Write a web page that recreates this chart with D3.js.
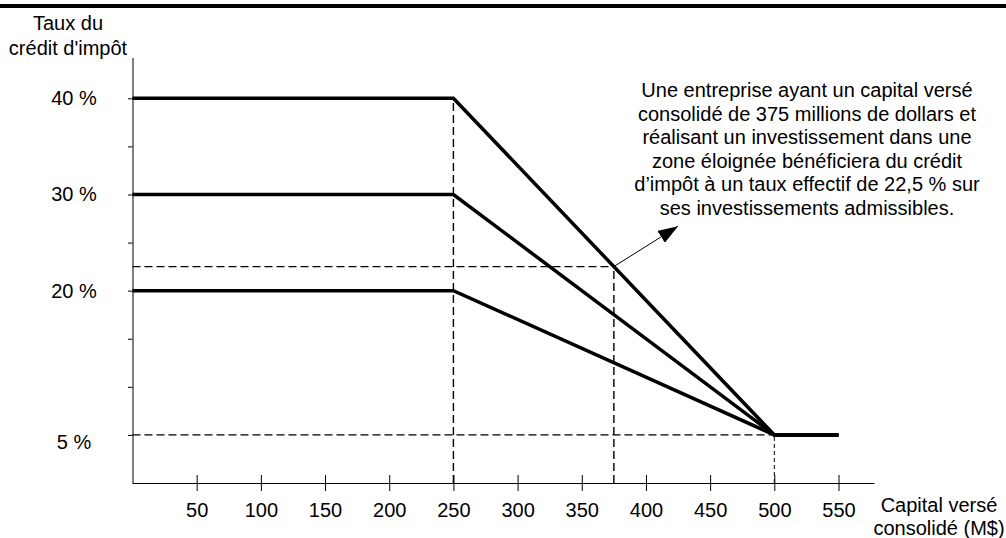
<!DOCTYPE html>
<html><head><meta charset="utf-8">
<script src="https://cdn.jsdelivr.net/npm/d3@7"></script>
<style>
html,body{margin:0;padding:0;background:#fff;}
svg{display:block;font-family:"Liberation Sans",Arial,sans-serif;}
</style></head>
<body><svg id="c" width="1006" height="538"></svg>
<script>
// ---- data ----
const capital = [0, 250, 500, 550];              // M$
const rate40 = [40, 40, 5, 5];                    // %
const rate30 = [30, 30, 5, 5];
const rate20 = [20, 20, 5, 5];
const xTicks = [50, 100, 150, 200, 250, 300, 350, 400, 450, 500, 550];
const yTicks = [5, 10, 15, 20, 25, 30, 35, 40];
const yLabelValues = [40, 30, 20, 5];
const yLabelTexts = ["40 %", "30 %", "20 %", "5 %"];
const example = {capital: 375, rate: 22.5};
const arrowTip = {capital: 425, rate: 26.7};
const noteLines = [
  "Une entreprise ayant un capital versé",
  "consolidé de 375 millions de dollars et",
  "réalisant un investissement dans une",
  "zone éloignée bénéficiera du crédit",
  "d’impôt à un taux effectif de 22,5 % sur",
  "ses investissements admissibles."
];
const yTitle = ["Taux du", "crédit d'impôt"];
const xTitle = ["Capital versé", "consolidé (M$)"];

// ---- layout ----
const svg = d3.select("#c");
const x = d3.scaleLinear().domain([0, 550]).range([132.5, 838.5]);
const y = d3.scaleLinear().domain([0, 40]).range([483, 98.3]);
const fs = 20;

// top bar
svg.append("rect").attr("x", 0).attr("y", 4).attr("width", 1006).attr("height", 4).attr("fill", "#000");

// dashed guides
const guides = svg.append("g").attr("fill", "none").attr("stroke", "#000");
const dash = "8,4";
function seg(x1, y1, x2, y2, w, da) {
  guides.append("line").attr("x1", x(x1)).attr("y1", y(y1)).attr("x2", x(x2)).attr("y2", y(y2))
    .attr("stroke-width", w).attr("stroke-dasharray", da);
}
seg(capital[1], 0, capital[1], rate40[1], 1.4, dash);
seg(0, example.rate, example.capital, example.rate, 1.4, dash);
seg(example.capital, 0, example.capital, example.rate, 1.4, dash);
seg(0, rate40[2], capital[2], rate40[2], 1.4, dash);
seg(capital[2], 0, capital[2], rate40[2], 1, "4,3");

// axes
const xAxis = svg.append("g").attr("transform", `translate(0,${y(0)})`)
  .call(d3.axisBottom(x).tickValues(xTicks).tickSize(8).tickPadding(12).tickFormat(d3.format("d")));
xAxis.select(".domain").attr("d", `M${x(0)},0.5H${x(578)}`).attr("stroke", "#000");
xAxis.selectAll(".tick line").attr("y1", -8).attr("stroke", "#000");
xAxis.selectAll(".tick text").attr("font-size", fs).attr("font-family", "Liberation Sans, Arial, sans-serif").attr("fill", "#000");

const yAxis = svg.append("g").attr("transform", `translate(${x(0)},0)`)
  .call(d3.axisLeft(y).tickValues(yTicks).tickSize(4.5).tickFormat(""));
yAxis.select(".domain").attr("d", `M0.5,${y(44.2)}V${y(0)}`).attr("stroke", "#000");
yAxis.selectAll(".tick line").attr("stroke", "#000");

// y labels
svg.append("g").selectAll("text").data(yLabelValues).join("text")
  .attr("x", 74).attr("y", d => y(d)).attr("dy", d => d === 5 ? "0.7em" : "0.35em")
  .attr("text-anchor", "middle").attr("font-size", fs).attr("fill", "#000")
  .text((d, i) => yLabelTexts[i]);

// titles
svg.append("g").selectAll("text").data(yTitle).join("text")
  .attr("x", 68).attr("y", (d, i) => 30 + i * 25).attr("text-anchor", "middle")
  .attr("font-size", fs).text(d => d);
svg.append("g").selectAll("text").data(xTitle).join("text")
  .attr("x", 939).attr("y", (d, i) => 512 + i * 23).attr("text-anchor", "middle")
  .attr("font-size", fs).text(d => d);

// series
const line = d3.line().x(d => x(d[0])).y(d => y(d[1]));
[rate40, rate30, rate20].forEach(r => {
  svg.append("path").datum(capital.map((c, i) => [c, r[i]]))
    .attr("d", line).attr("fill", "none").attr("stroke", "#000")
    .attr("stroke-width", 3.5).attr("stroke-linejoin", "miter");
});

// arrow
svg.append("defs").append("marker").attr("id", "ah").attr("viewBox", "0 0 20 14")
  .attr("refX", 20).attr("refY", 7).attr("markerWidth", 20).attr("markerHeight", 14)
  .attr("markerUnits", "userSpaceOnUse").attr("orient", "auto")
  .append("path").attr("d", "M0,0L20,7L0,14Z").attr("fill", "#000");
svg.append("line").attr("x1", x(example.capital)).attr("y1", y(example.rate))
  .attr("x2", x(arrowTip.capital)).attr("y2", y(arrowTip.rate))
  .attr("stroke", "#000").attr("stroke-width", 1).attr("marker-end", "url(#ah)");

// note
svg.append("g").selectAll("text").data(noteLines).join("text")
  .attr("x", 807).attr("y", (d, i) => 97 + i * 23.5).attr("text-anchor", "middle")
  .attr("font-size", 20).attr("fill", "#000").text(d => d);
</script></body></html>
